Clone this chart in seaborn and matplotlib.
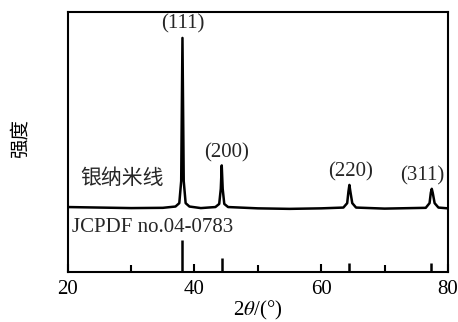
import numpy as np
import pandas as pd
import matplotlib
matplotlib.use('Agg')
import matplotlib.pyplot as plt
import seaborn as sns
from matplotlib.ticker import MultipleLocator

sns.set_theme(style='ticks')
plt.rcParams['font.family'] = ['Liberation Serif', 'Noto Sans CJK SC']
plt.rcParams['mathtext.fontset'] = 'stix'

# ── Data ───────────────────────────────────────────────────────────
two_theta = [20, 25, 30, 35, 37.0, 37.6, 37.9, 38.1, 38.3, 38.6, 39.2, 41,
             43.3, 43.9, 44.15, 44.3, 44.45, 44.7, 45.3, 50, 55, 60,
             63.5, 64.1, 64.3, 64.45, 64.6, 64.9, 65.5, 70,
             76.5, 77.1, 77.3, 77.45, 77.6, 77.9, 78.5, 80]
intensity = [25.0, 24.8, 24.6, 24.7, 25.2, 26.5, 35, 90, 35, 26.5, 25.2, 24.6,
             25.0, 26.2, 32, 41, 32, 26.2, 25.0, 24.5, 24.3, 24.5,
             24.8, 26.5, 31, 33.5, 31, 26.5, 24.8, 24.4,
             24.7, 26.5, 30.5, 32, 30.5, 26.5, 24.8, 24.5]

ref_pos = [38.1, 44.3, 64.4, 77.4]
ref_height = [12.3, 5.4, 3.5, 3.5]

peak_labels = ['(111)', '(200)', '(220)', '(311)']
label_x = [38.1, 45.0, 64.7, 75.9]
label_y = [95.5, 45.8, 38.5, 37]

df = pd.DataFrame({'two_theta': two_theta, 'intensity': intensity})

# ── Plot ───────────────────────────────────────────────────────────
fig = plt.figure(figsize=(4.58, 3.22), dpi=100)
ax = fig.add_axes([0.148, 0.155, 0.83, 0.808])

sns.lineplot(data=df, x='two_theta', y='intensity', ax=ax,
             color='black', linewidth=1.8, sort=False)
ax.vlines(ref_pos, 0, ref_height, color='black', linewidth=1.8)

for lab, x, y in zip(peak_labels, label_x, label_y):
    ax.text(x, y, lab, ha='center', va='center', fontsize=15)

ax.text(21.9, 36, '银纳米线', ha='left', va='center', fontsize=15,
        family=['Noto Sans CJK SC'])
ax.text(20.7, 17, 'JCPDF no.04-0783', ha='left', va='center', fontsize=15)

ax.set_xlim(20, 80)
ax.set_ylim(0, 100)
ax.xaxis.set_major_locator(MultipleLocator(20))
ax.xaxis.set_minor_locator(MultipleLocator(10))
ax.tick_params(axis='x', which='both', direction='in', labelsize=15,
               width=1.5, color='black', labelcolor='black', pad=6)
ax.tick_params(axis='x', which='major', length=6)
ax.tick_params(axis='x', which='minor', length=5)
ax.set_yticks([])
for s in ax.spines.values():
    s.set_visible(True)
    s.set_linewidth(1.5)
    s.set_color('black')

ax.set_xlabel(r'2$\theta$/(°)', fontsize=15, labelpad=0, color='black')
ax.set_ylabel('')
fig.text(20 / 458, 1 - 138 / 322, '强度', rotation=90, ha='center', va='center',
         fontsize=14, family=['Noto Sans CJK SC'], color='black')

fig.savefig('out.png', dpi=100)
